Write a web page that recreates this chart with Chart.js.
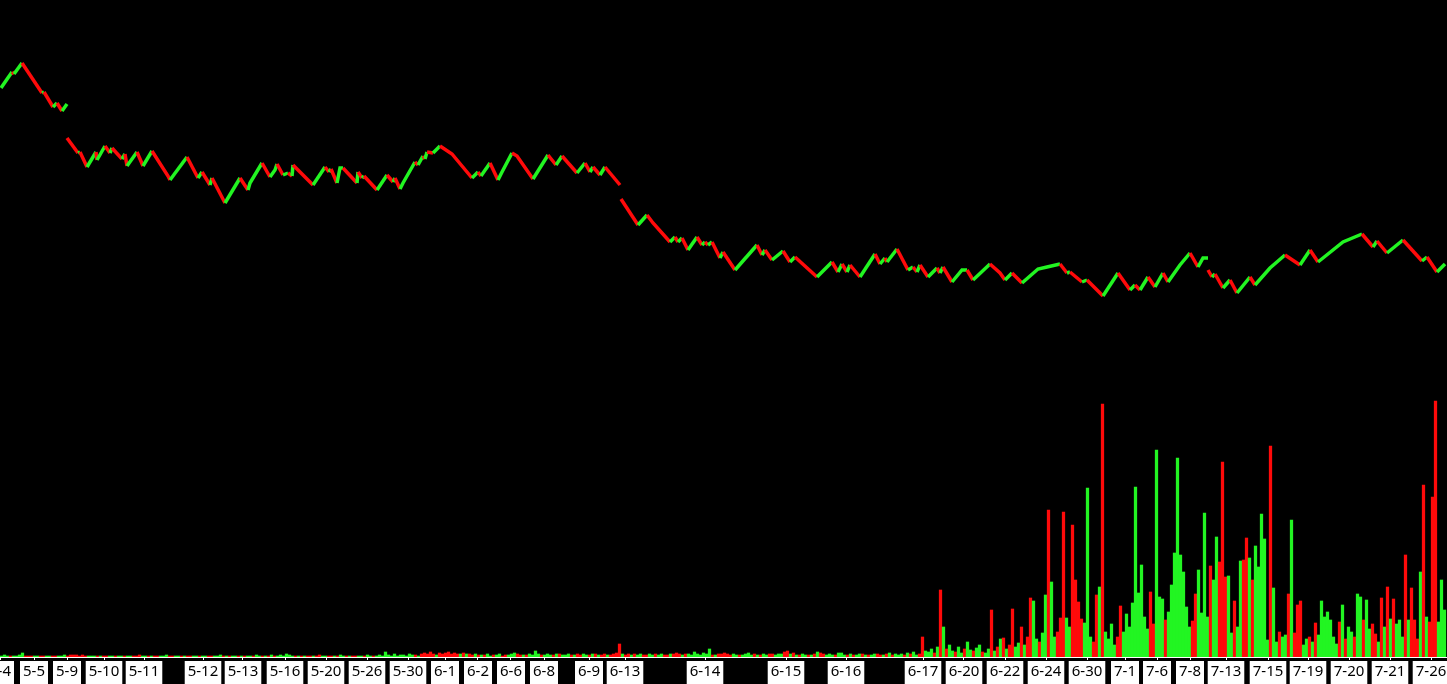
<!DOCTYPE html>
<html lang="en">
<head>
<meta charset="UTF-8">
<title>Price and Volume</title>
<script src="https://cdn.jsdelivr.net/npm/chart.js"></script>
<style>
  html, body { margin: 0; padding: 0; background: #000; overflow: hidden; }
  #wrap { width: 1447px; height: 684px; }
</style>
</head>
<body>
<div id="wrap"><canvas id="chart"></canvas></div>
<script>
// date labels on the bottom axis and where they sit (tick number)
const dateLabels = ['5-4','5-5','5-9','5-10','5-11','5-12','5-13','5-16','5-20','5-26','5-30','6-1','6-2','6-6','6-8','6-9','6-13',
  '6-14','6-15','6-16','6-17','6-20','6-22','6-24','6-30','7-1','7-6','7-8','7-13','7-15','7-19','7-20','7-21','7-26'];
const labelPos = [0,34,67,104,144,203,243,285,326,367,408,445,478,511,544,589,625,
  705,786,846,923,964,1005,1046,1087,1125,1157,1190,1226,1268,1308,1349,1390,1431];

// price turning points (tick number, level); null = break in the line
const priceX = [1,12,14,22,42,44,53,57,62,67, null,
  67,78,80,87,96,97,105,110,112,122,125,127,137,143,152,168,170,187,198,202,210,212,225,240,248,250,262,270,275,277,283,288,292,293,
  313,325,329,331,337,340,343,357,358,362,364,377,387,393,395,400,403,415,418,423,425,427,433,440,452,472,478,481,490,498,502,512,517,
  533,548,556,562,577,585,590,593,600,605,620, null,
  621,638,647,653,670,675,678,682,688,697,702,705,708,712,720,723,735,757,762,765,772,783,790,795,817,832,838,842,847,850,860,875,880,
  885,887,897,908,913,917,920,928,937,940,943,952,962,967,973,990,1000,1005,1012,1022,1038,1047,1060,1067,1070,1082,1087,1103,1118,
  1130,1135,1140,1148,1155,1163,1168,1180,1190,1198,1203,1208, null,
  1208,1212,1215,1223,1230,1237,1250,1255,1270,1285,1300,1310,1318,1343,1362,1373,1377,1387,1403,1422,1427,1437,1445];
const priceY = [569,585,583,594,564,565,550,554,546,553, null,
  519,504,505,490,505,497,511,504,509,498,503,491,505,491,506,481,477,500,479,485,472,479,454,479,467,474,494,480,487,493,482,484,481,492,
  472,490,485,488,474,489,489,474,485,479,481,467,482,475,479,468,474,495,492,501,498,505,504,511,503,479,485,481,494,477,485,504,501,
  478,502,492,501,484,494,485,490,482,490,472, null,
  458,432,442,434,415,420,415,419,407,420,412,415,412,415,399,405,387,412,402,407,397,406,395,400,380,395,385,393,385,392,380,403,393,
  399,395,408,387,390,385,392,380,389,384,390,375,387,387,377,393,384,377,384,374,388,390,393,384,385,375,377,361,384,
  367,372,367,380,370,384,375,392,404,390,399,399, null,
  387,380,383,369,377,364,380,372,389,402,392,407,395,415,423,410,416,404,417,396,400,385,393];

// volume per bar, one bar every 3 ticks; positive = up bar, negative = down bar
const volume = [
  1,2,1,-1,1,1,2,4,-1,-1,-1,1,1,-1,-1,1,1,-1,-1,1,
  1,2,-1,-2,-2,-2,-1,-2,-1,1,1,1,-1,1,-1,-1,1,1,-1,1,
  1,-1,1,1,-1,-1,-2,1,1,-1,1,-1,-1,1,1,2,-1,-1,1,1,
  -1,1,-1,-1,1,1,-1,1,1,-1,-1,1,1,2,-1,1,-1,1,1,-1,
  1,-1,1,1,-1,2,1,-1,1,-1,2,-1,1,2,1,3,2,1,-1,1,
  -1,1,-1,-1,1,-1,-2,1,1,-1,-1,1,-1,2,1,-1,1,-1,-1,1,
  1,-1,2,1,-1,1,2,1,5,2,1,3,1,2,2,1,3,2,-2,1,
  -3,-4,-3,-5,-3,2,-4,-3,-4,-5,-3,-4,-3,3,-4,3,-3,-2,3,-2,
  2,-2,3,1,-2,2,3,-1,-2,2,3,4,-3,-2,2,-2,3,2,6,3,
  -2,2,3,2,-2,3,-3,2,2,3,-2,2,-3,-2,3,2,-2,3,-3,2,
  -2,-3,2,-2,-3,-4,-13,3,-2,-3,2,-3,2,3,-2,-2,3,2,-3,2,
  3,-2,-2,3,-3,-4,-3,2,-3,3,2,5,3,2,4,3,8,-2,2,-3,
  -3,-4,-3,-2,3,2,-2,2,3,4,2,-3,2,-2,3,2,-3,-3,2,3,
  3,-5,-6,3,-4,2,-2,3,2,-2,2,-3,5,-4,-3,2,3,2,-2,4,
  4,2,-2,3,-2,2,3,-3,2,-2,2,3,-3,-2,2,-3,4,-2,3,2,
  3,-2,4,-3,5,2,-3,-20,6,5,8,-4,10,-67,30,-8,12,6,-5,10,
  4,-8,15,7,-6,9,12,-5,4,8,-47,6,-10,18,-19,8,-12,-48,10,14,
  -30,12,-20,-59,56,18,-15,24,62,-147,75,20,-25,-39,-145,39,30,-132,-77,-55,
  -38,34,169,20,-15,-62,70,-253,25,18,33,12,-20,-51,25,43,30,54,170,64,
  92,40,28,-65,-33,207,60,58,-37,45,72,104,199,102,85,50,30,-36,-63,87,
  44,144,40,-91,77,120,-95,-195,-80,81,24,-56,30,96,-97,-119,99,-77,111,90,
  143,118,17,-211,69,15,-25,20,22,-63,137,-24,-52,-56,12,18,-20,15,-34,22,
  56,40,45,37,20,13,-35,52,-18,30,25,-20,63,60,-37,57,28,-33,-23,15,
  -59,30,-70,38,-58,33,37,20,-102,37,-69,-37,-18,85,-172,40,-35,-160,-256,35,
  77,47
];

const barStep = 3;
const UP = '#22f522';
const DOWN = '#ff0a0a';

const pricePoints = priceX.map((x, i) => ({ x: x === null ? priceX[i - 1] : x, y: priceY[i] }));
const volPoints = volume.map((v, i) => ({ x: i * barStep + 1.5, y: Math.abs(v) }));
const volColors = volume.map(v => v >= 0 ? UP : DOWN);

new Chart(document.getElementById('chart'), {
  data: {
    datasets: [{
      type: 'line',
      data: pricePoints,
      yAxisID: 'y',
      borderWidth: 3.5,
      pointRadius: 0,
      spanGaps: false,
      tension: 0,
      segment: {
        borderColor: c => c.p1.parsed.y >= c.p0.parsed.y ? UP : DOWN
      }
    }, {
      type: 'bar',
      data: volPoints,
      yAxisID: 'yv',
      backgroundColor: volColors,
      borderWidth: 0,
      barThickness: 2.6
    }]
  },
  options: {
    responsive: true,
    maintainAspectRatio: false,
    animation: false,
    layout: { padding: 0 },
    plugins: { legend: { display: false }, tooltip: { enabled: false } },
    scales: {
      x: {
        type: 'linear',
        min: 0,
        max: 1447,
        offset: false,
        position: 'bottom',
        grid: { drawOnChartArea: false, offset: false, color: '#fff', tickLength: 3 },
        border: { color: '#fff', width: 1 },
        afterBuildTicks: s => { s.ticks = labelPos.map(v => ({ value: v })); },
        afterFit: s => { s.height = 27; s.paddingLeft = 0; s.paddingRight = 0; },
        ticks: {
          autoSkip: false,
          maxRotation: 0,
          color: '#000',
          padding: 3,
          font: { family: 'Noto Sans', size: 15 },
          showLabelBackdrop: true,
          backdropColor: '#fff',
          backdropPadding: { top: 2, bottom: 3, left: 3, right: 3 },
          callback: (v, i) => dateLabels[i]
        }
      },
      y: { display: false, min: 0, max: 657 },
      yv: { display: false, min: 0, max: 657 }
    }
  }
});
</script>
</body>
</html>
